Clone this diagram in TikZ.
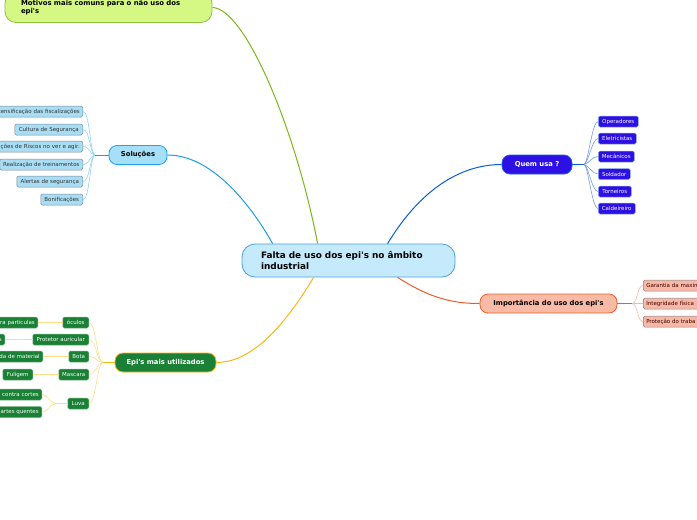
\documentclass[tikz,border=0pt]{standalone}
\usepackage{fontspec}
\setmainfont{DejaVu Sans}[Ligatures=TeXOff]
\definecolor{rootfill}{HTML}{C5EAFB}
\definecolor{rootdraw}{HTML}{4A9FDB}
\definecolor{motfill}{HTML}{D5F783}
\definecolor{motdraw}{HTML}{8CC63F}
\definecolor{motline}{HTML}{7DB51A}
\definecolor{solfill}{HTML}{A6E0F8}
\definecolor{soldraw}{HTML}{1CA3EC}
\definecolor{solline}{HTML}{1A9DE3}
\definecolor{solleaf}{HTML}{A8DDF4}
\definecolor{solleafline}{HTML}{8FD3F5}
\definecolor{quemfill}{HTML}{2D10E3}
\definecolor{quemdraw}{HTML}{1F5FE0}
\definecolor{quemline}{HTML}{0B5DD6}
\definecolor{quemleafline}{HTML}{6F9CEE}
\definecolor{impfill}{HTML}{F9BAA6}
\definecolor{impdraw}{HTML}{F0602C}
\definecolor{impline}{HTML}{F15A24}
\definecolor{impleaf}{HTML}{F7B8A6}
\definecolor{impleafline}{HTML}{F8B9A4}
\definecolor{epifill}{HTML}{1A8035}
\definecolor{epidraw}{HTML}{F6B610}
\definecolor{epiline}{HTML}{FBB714}
\definecolor{epileafline}{HTML}{FFDD88}
\definecolor{leafgray}{HTML}{7A8A92}
\begin{document}
\begin{tikzpicture}[x=1pt,y=-1pt,
  mainbox/.style={draw, line width=0.8pt, rounded corners=8pt, minimum height=19pt,
    inner xsep=2pt, inner ysep=0pt, font=\fontsize{6.8}{7.8}\selectfont\bfseries},
  leaf/.style={draw, line width=0.5pt, rounded corners=1.5pt, minimum height=11pt,
    inner xsep=3pt, inner ysep=0pt, font=\fontsize{5.5}{6.5}\selectfont},
  solleafbox/.style={leaf, fill=solleaf, draw=leafgray, text=black!80},
  quemleafbox/.style={leaf, fill=quemfill, draw=quemleafline!80!white, text=white},
  impleafbox/.style={leaf, fill=impleaf, draw=leafgray, text=black!75!red},
  epileafbox/.style={leaf, fill=epifill, draw=epifill!60!white, text=white},
  branch/.style={line width=1pt},
  twig/.style={line width=0.6pt}
]
\useasboundingbox (0,0) rectangle (697,520);
\clip (0,0) rectangle (697,520);

% ---------- root ----------
\node[draw=rootdraw, fill=rootfill, line width=0.8pt, rounded corners=13pt,
  minimum width=213pt, minimum height=33pt, inner xsep=19pt, inner ysep=0pt,
  text width=175pt, align=left, font=\fontsize{8.9}{10.8}\selectfont\bfseries]
  (root) at (348.5,260.5) {Falta de uso dos epi's no âmbito\\industrial};

% ---------- Motivos ----------
\node[draw=motdraw, fill=motfill, line width=0.8pt, rounded corners=11pt,
  minimum width=207pt, minimum height=30pt, inner xsep=16pt, inner ysep=0pt,
  text width=175pt, align=left, font=\fontsize{6.9}{8}\selectfont\bfseries]
  (mot) at (108.5,7.5) {Motivos mais comuns para o não uso dos\\epi's};
\draw[branch, motline] (mot.east) .. controls (245,8) and (296,130) .. ([xshift=76pt]root.north west);

% ---------- Soluções ----------
\node[mainbox, fill=solfill, draw=soldraw, minimum width=58pt] (sol) at (138,155) {Soluções};
\draw[branch, solline] (sol.east) .. controls (215,155) and (255,212) .. ([xshift=31pt]root.north west);
\coordinate (solj) at (95,155);
\draw[twig, solline] (sol.west) -- (solj);
\node[solleafbox, anchor=east, text width=105pt, align=right] (s1) at (83,111.5) {ntensificação das fiscalizações};
\node[solleafbox, anchor=east, minimum width=68pt] (s2) at (83,129.5) {Cultura de Segurança};
\node[solleafbox, anchor=east, text width=105pt, align=right] (s3) at (83,146.5) {ções de Riscos no ver e agir.};
\node[solleafbox, anchor=east, minimum width=83pt] (s4) at (83,164.5) {Realização de treinamentos};
\node[solleafbox, anchor=east, minimum width=66pt] (s5) at (83,181.5) {Alertas de segurança};
\node[solleafbox, anchor=east, minimum width=42pt] (s6) at (83,199.5) {Bonificações};
\foreach \n in {s1,s2,s3,s4,s5,s6}
  \draw[twig, solleafline] (\n.east) .. controls +(7,0) and (90,155) .. (solj);

% ---------- Quem usa ? ----------
\node[mainbox, fill=quemfill, draw=quemdraw, text=white, minimum width=70pt] (quem) at (537,164.5) {Quem usa ?};
\draw[branch, quemline] ([xshift=146pt]root.north west) .. controls (420,190) and (460,164.5) .. (quem.west);
\coordinate (quemj) at (584,164.5);
\draw[twig, quemline] (quem.east) -- (quemj);
\node[quemleafbox, anchor=west, minimum width=40pt] (q1) at (598,121.5) {Operadores};
\node[quemleafbox, anchor=west, minimum width=38pt] (q2) at (598,138.5) {Eletricistas};
\node[quemleafbox, anchor=west, minimum width=36pt] (q3) at (598,156.5) {Mecânicos};
\node[quemleafbox, anchor=west, minimum width=32pt] (q4) at (598,174) {Soldador};
\node[quemleafbox, anchor=west, minimum width=33pt] (q5) at (598,191.5) {Torneiros};
\node[quemleafbox, anchor=west, minimum width=37pt] (q6) at (598,208.5) {Caldeireiro};
\foreach \n in {q1,q2,q3,q4,q5,q6}
  \draw[twig, quemleafline] (quemj) .. controls (588,164.5) and ([xshift=-6pt]\n.west) .. (\n.west);

% ---------- Importância ----------
\node[mainbox, fill=impfill, draw=impdraw, text=black, minimum width=137pt] (imp) at (548.5,303.5) {Importância do uso dos epi's};
\draw[branch, impline] ([xshift=156pt]root.south west) .. controls (430,298) and (452,303.5) .. (imp.west);
\coordinate (impj) at (632,303.5);
\draw[twig, impline] (imp.east) -- (impj);
\node[impleafbox, anchor=west, text width=80pt, align=left] (i1) at (643,285.5) {Garantia da maxim};
\node[impleafbox, anchor=west, text width=80pt, align=left] (i2) at (643,303.5) {Integridade física};
\node[impleafbox, anchor=west, text width=80pt, align=left] (i3) at (643,321.5) {Proteção do traba};
\foreach \n in {i1,i2,i3}
  \draw[twig, impleafline] (impj) .. controls (638,303.5) and ([xshift=-6pt]\n.west) .. (\n.west);

% ---------- Epi's mais utilizados ----------
\node[mainbox, fill=epifill, draw=epidraw, text=white, minimum width=101pt] (epi) at (165.5,362.5) {Epi's mais utilizados};
\draw[branch, epiline] ([xshift=72pt]root.south west) .. controls (282,330) and (250,362.5) .. (epi.east);
\coordinate (epij) at (103,362.5);
\draw[twig, epiline] (epi.west) -- (epij);
\node[epileafbox, anchor=east, minimum width=26pt] (e1) at (89,322.5) {óculos};
\node[epileafbox, anchor=east, minimum width=56pt] (e2) at (89,339.5) {Protetor auricular};
\node[epileafbox, anchor=east, minimum width=20pt] (e3) at (89,356.5) {Bota};
\node[epileafbox, anchor=east, minimum width=30pt] (e4) at (89,374.5) {Mascara};
\node[epileafbox, anchor=east, minimum width=21pt] (e5) at (89,403.5) {Luva};
\foreach \n in {e1,e2,e3,e4,e5}
  \draw[twig, epileafline] (\n.east) .. controls +(7,0) and (97,362.5) .. (epij);

\node[epileafbox, anchor=east, text width=60pt, align=right] (g1) at (38,322.5) {ra particulas};
\node[epileafbox, anchor=east, text width=40pt, align=right] (g2) at (5,339.5) {s};
\node[epileafbox, anchor=east, text width=60pt, align=right] (g3) at (43,356.5) {da de material};
\node[epileafbox, anchor=east, minimum width=30pt] (g4) at (33,374.5) {Fuligem};
\node[epileafbox, anchor=east, text width=60pt, align=right] (g5) at (42,394.5) {contra cortes};
\node[epileafbox, anchor=east, text width=60pt, align=right] (g6) at (42,412) {artes quentes};
\draw[twig, epileafline] (e1.west) -- (g1.east);
\draw[twig, epileafline] (e2.west) -- (g2.east);
\draw[twig, epileafline] (e3.west) -- (g3.east);
\draw[twig, epileafline] (e4.west) -- (g4.east);
\coordinate (luvaj) at (56,403.5);
\draw[twig, epileafline] (e5.west) -- (luvaj);
\draw[twig, epileafline] (luvaj) .. controls (50,403.5) and (48,394.5) .. (g5.east);
\draw[twig, epileafline] (luvaj) .. controls (50,403.5) and (48,412) .. (g6.east);
\end{tikzpicture}
\end{document}
